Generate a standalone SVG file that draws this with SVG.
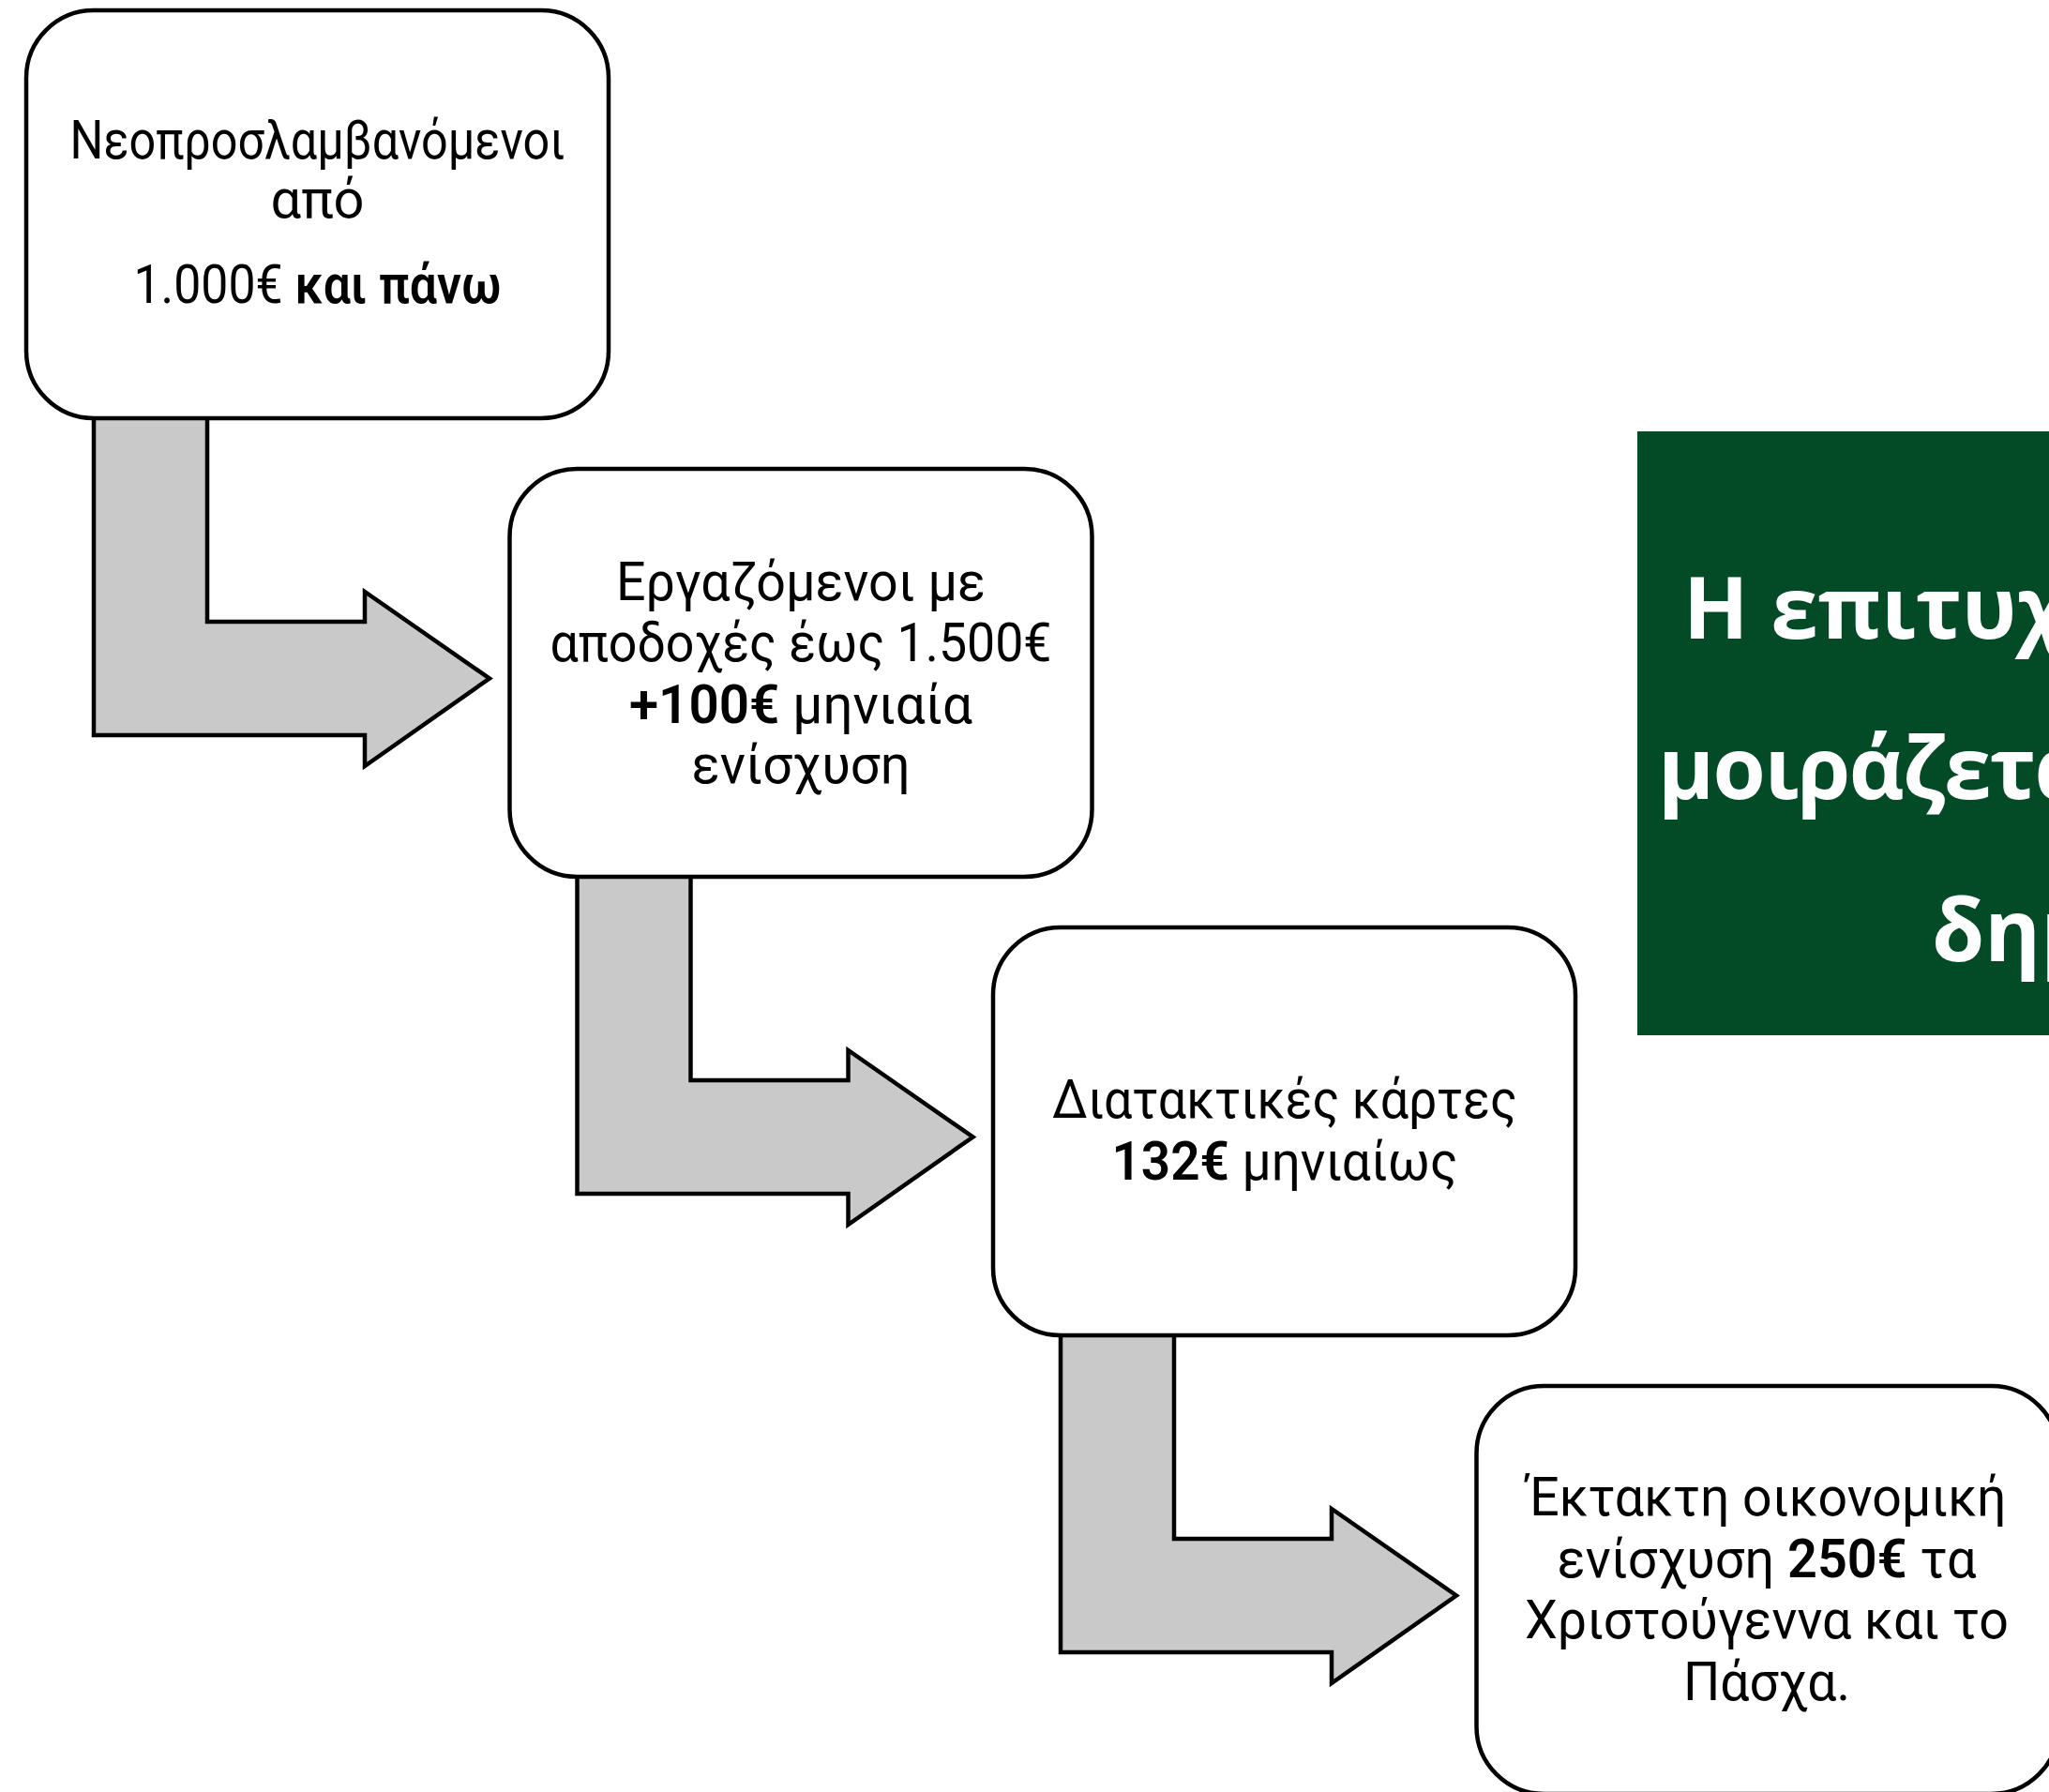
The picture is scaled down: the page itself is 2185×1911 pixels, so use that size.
<svg xmlns="http://www.w3.org/2000/svg" width="2185" height="1911" viewBox="0 0 2185 1911">
  <style>
    .box { fill: #ffffff; stroke: #000000; stroke-width: 4.5; }
    .arrow { fill: #c9c9c9; stroke: #000000; stroke-width: 4.5; stroke-linejoin: miter; }
    .t { font-family: Roboto, "Noto Sans", "Liberation Sans", sans-serif; font-size: 57px; fill: #000000; text-anchor: middle; }
    .b { font-weight: 600; }
    .g { font-family: "Open Sans", "Noto Sans", sans-serif; font-weight: bold; font-size: 91px; fill: #ffffff; }
  </style>
  <defs>
    <path id="bend" d="M100,440 L221,440 L221,663 L389,663 L389,631 L522,723.5 L389,817 L389,784 L100,784 Z"/>
  </defs>
  <rect width="2185" height="1911" fill="#ffffff"/>

  <g id="connectors">
    <use href="#bend" class="arrow"/>
    <use href="#bend" class="arrow" transform="translate(515.5,489)"/>
    <use href="#bend" class="arrow" transform="translate(1031,978)"/>
  </g>

  <g id="node1">
    <rect class="box" x="28" y="11" width="621" height="435" rx="72" ry="72"/>
    <text class="t" x="338.5" y="169" textLength="528" lengthAdjust="spacingAndGlyphs">Νεοπροσλαμβανόμενοι</text>
    <text class="t" x="338.5" y="232" textLength="100" lengthAdjust="spacingAndGlyphs">από</text>
    <text class="t" x="338.5" y="323" textLength="392" lengthAdjust="spacingAndGlyphs">1.000€ <tspan class="b">και πάνω</tspan></text>
  </g>

  <g id="node2">
    <rect class="box" x="543.5" y="500" width="621" height="435" rx="72" ry="72"/>
    <text class="t" x="854" y="640" textLength="394" lengthAdjust="spacingAndGlyphs">Εργαζόμενοι με</text>
    <text class="t" x="854" y="705" textLength="535" lengthAdjust="spacingAndGlyphs">αποδοχές έως 1.500€</text>
    <text class="t" x="854" y="771" textLength="366" lengthAdjust="spacingAndGlyphs"><tspan class="b">+100€</tspan> μηνιαία</text>
    <text class="t" x="854" y="835" textLength="233" lengthAdjust="spacingAndGlyphs">ενίσχυση</text>
  </g>

  <g id="node3">
    <rect class="box" x="1059" y="989" width="621" height="435" rx="72" ry="72"/>
    <text class="t" x="1370" y="1192" textLength="496" lengthAdjust="spacingAndGlyphs">Διατακτικές κάρτες</text>
    <text class="t" x="1370" y="1258" textLength="369" lengthAdjust="spacingAndGlyphs"><tspan class="b">132€</tspan> μηνιαίως</text>
  </g>

  <g id="node4">
    <rect class="box" x="1574.5" y="1478" width="621" height="435" rx="72" ry="72"/>
    <text class="t" x="1884" y="1616" textLength="511" lengthAdjust="spacingAndGlyphs">Έκτακτη οικονομική</text>
    <text class="t" x="1884" y="1682" textLength="447" lengthAdjust="spacingAndGlyphs">ενίσχυση <tspan class="b">250€</tspan> τα</text>
    <text class="t" x="1884" y="1747" textLength="516" lengthAdjust="spacingAndGlyphs">Χριστούγεννα και το</text>
    <text class="t" x="1884" y="1813" textLength="178" lengthAdjust="spacingAndGlyphs">Πάσχα.</text>
  </g>

  <g id="banner">
    <rect x="1746" y="460" width="460" height="644" fill="#024b26"/>
    <text class="g" x="1795" y="681">Η επιτυχ</text>
    <text class="g" x="1768" y="852" letter-spacing="-1.5">μοιράζετα</text>
    <text class="g" x="2060" y="1025">δημ</text>
  </g>
</svg>
